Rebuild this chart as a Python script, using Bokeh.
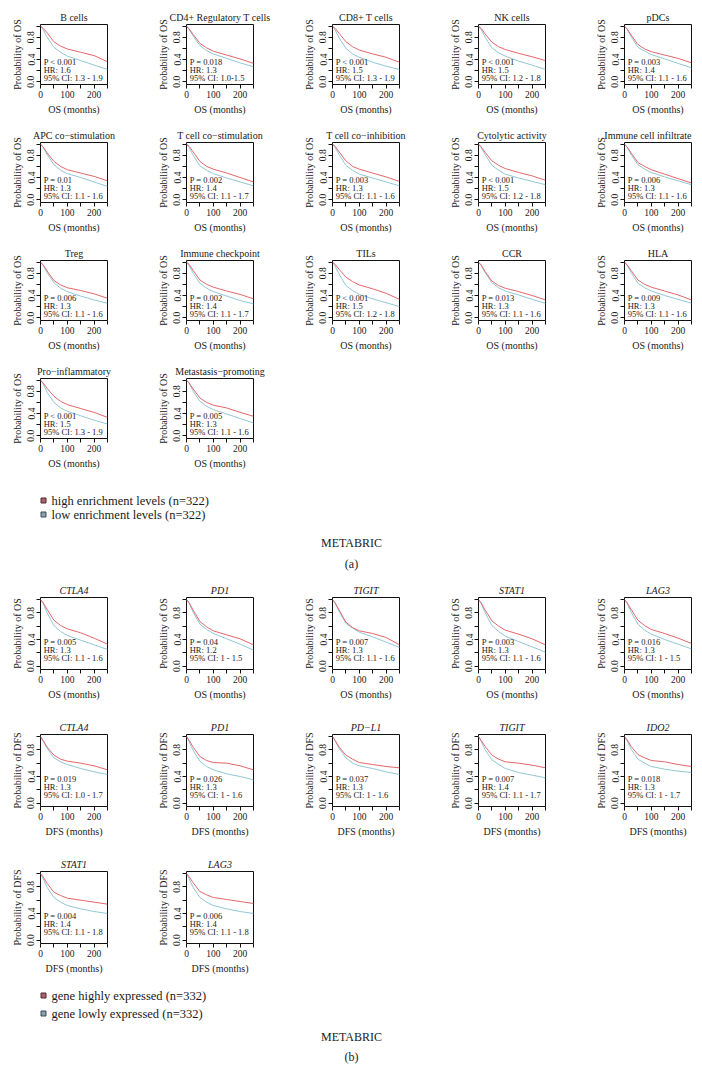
import math
from bokeh.plotting import figure
from bokeh.layouts import column, row
from bokeh.models import Range1d, FixedTicker
from bokeh.core.properties import value
from bokeh.embed import file_html
from bokeh.resources import INLINE

FONT = "Liberation Serif"
HIGH_COLOR = "#E3676B"
LOW_COLOR = "#92C7D5"
TEXT = "#1a1a1a"

# follow-up time points (months) at which the survival curves were read
months = [0, 10, 25, 50, 75, 100, 150, 200, 250]

# ---------------- panel (a): immune signatures, OS ----------------
a_titles = ["B cells", "CD4+ Regulatory T cells", "CD8+ T cells", "NK cells", "pDCs",
            "APC co\u2212stimulation", "T cell co\u2212stimulation", "T cell co\u2212inhibition",
            "Cytolytic activity", "Immune cell infiltrate",
            "Treg", "Immune checkpoint", "TILs", "CCR", "HLA",
            "Pro\u2212inflammatory", "Metastasis\u2212promoting"]

a_high = [
    [1, .96, .88, .72, .64, .59, .53, .47, .36],
    [1, .95, .85, .69, .61, .55, .48, .41, .33],
    [1, .96, .87, .72, .63, .57, .50, .44, .35],
    [1, .96, .86, .71, .63, .58, .51, .45, .38],
    [1, .95, .84, .67, .59, .54, .48, .42, .34],
    [1, .95, .84, .69, .60, .54, .48, .42, .34],
    [1, .96, .86, .69, .60, .55, .48, .40, .32],
    [1, .96, .86, .70, .60, .55, .48, .41, .33],
    [1, .95, .85, .70, .62, .56, .49, .43, .35],
    [1, .95, .84, .67, .60, .54, .46, .38, .30],
    [1, .95, .84, .67, .59, .54, .49, .43, .35],
    [1, .96, .85, .68, .60, .55, .48, .42, .34],
    [1, .96, .87, .73, .65, .59, .52, .44, .33],
    [1, .95, .83, .66, .58, .53, .47, .40, .32],
    [1, .95, .85, .68, .60, .55, .48, .41, .32],
    [1, .95, .85, .71, .62, .56, .49, .42, .33],
    [1, .95, .84, .68, .60, .55, .50, .42, .35],
]
a_low = [
    [1, .94, .80, .62, .53, .46, .38, .30, .22],
    [1, .94, .82, .65, .56, .50, .42, .34, .27],
    [1, .93, .79, .60, .50, .44, .35, .28, .22],
    [1, .94, .80, .61, .52, .46, .37, .30, .22],
    [1, .94, .81, .62, .55, .49, .41, .33, .25],
    [1, .94, .81, .63, .53, .47, .40, .32, .24],
    [1, .94, .80, .61, .53, .47, .39, .32, .25],
    [1, .94, .81, .62, .53, .46, .39, .32, .25],
    [1, .94, .81, .62, .53, .46, .39, .33, .27],
    [1, .94, .81, .63, .55, .49, .41, .34, .27],
    [1, .94, .81, .63, .53, .47, .39, .32, .26],
    [1, .94, .80, .62, .53, .47, .39, .31, .25],
    [1, .93, .78, .58, .49, .42, .34, .27, .20],
    [1, .94, .81, .63, .54, .48, .41, .33, .26],
    [1, .94, .81, .62, .54, .48, .40, .33, .26],
    [1, .93, .78, .60, .50, .44, .36, .28, .21],
    [1, .94, .80, .62, .53, .47, .39, .31, .23],
]
a_p = ["P < 0.001", "P = 0.018", "P < 0.001", "P < 0.001", "P = 0.003",
       "P = 0.01", "P = 0.002", "P = 0.003", "P < 0.001", "P = 0.006",
       "P = 0.006", "P = 0.002", "P < 0.001", "P = 0.013", "P = 0.009",
       "P < 0.001", "P = 0.005"]
a_hr = ["HR: 1.6", "HR: 1.3", "HR: 1.5", "HR: 1.5", "HR: 1.4",
        "HR: 1.3", "HR: 1.4", "HR: 1.3", "HR: 1.5", "HR: 1.3",
        "HR: 1.3", "HR: 1.4", "HR: 1.5", "HR: 1.3", "HR: 1.3",
        "HR: 1.5", "HR: 1.3"]
a_ci = ["95% CI: 1.3 - 1.9", "95% CI: 1.0-1.5", "95% CI: 1.3 - 1.9", "95% CI: 1.2 - 1.8", "95% CI: 1.1 - 1.6",
        "95% CI: 1.1 - 1.6", "95% CI: 1.1 - 1.7", "95% CI: 1.1 - 1.6", "95% CI: 1.2 - 1.8", "95% CI: 1.1 - 1.6",
        "95% CI: 1.1 - 1.6", "95% CI: 1.1 - 1.7", "95% CI: 1.2 - 1.8", "95% CI: 1.1 - 1.6", "95% CI: 1.1 - 1.6",
        "95% CI: 1.3 - 1.9", "95% CI: 1.1 - 1.6"]
a_legend = ["high enrichment levels (n=322)", "low enrichment levels (n=322)"]

# ---------------- panel (b): checkpoint genes, OS and DFS ----------------
b_titles = ["CTLA4", "PD1", "TIGIT", "STAT1", "LAG3",
            "CTLA4", "PD1", "PD\u2212L1", "TIGIT", "IDO2",
            "STAT1", "LAG3"]
b_endpoint = ["OS"] * 5 + ["DFS"] * 7
b_high = [
    [1, .95, .85, .69, .61, .56, .50, .42, .33],
    [1, .95, .84, .67, .59, .53, .47, .41, .32],
    [1, .95, .84, .66, .58, .53, .49, .43, .32],
    [1, .95, .84, .68, .60, .54, .48, .41, .32],
    [1, .95, .85, .69, .61, .55, .49, .42, .34],
    [1, .94, .84, .72, .66, .63, .60, .56, .50],
    [1, .94, .84, .70, .64, .61, .60, .56, .50],
    [1, .94, .84, .72, .66, .61, .58, .55, .53],
    [1, .94, .85, .72, .66, .62, .60, .57, .53],
    [1, .95, .85, .73, .68, .64, .62, .58, .55],
    [1, .95, .85, .72, .67, .63, .60, .57, .54],
    [1, .95, .86, .73, .68, .64, .61, .58, .55],
]
b_low = [
    [1, .94, .80, .61, .52, .46, .39, .32, .25],
    [1, .94, .81, .63, .55, .49, .41, .33, .24],
    [1, .94, .82, .64, .57, .51, .44, .36, .28],
    [1, .94, .80, .61, .52, .45, .37, .29, .21],
    [1, .94, .81, .63, .54, .48, .40, .33, .26],
    [1, .93, .82, .68, .62, .58, .52, .47, .43],
    [1, .92, .79, .63, .55, .50, .44, .40, .35],
    [1, .93, .82, .68, .60, .56, .52, .47, .43],
    [1, .93, .80, .65, .58, .52, .46, .42, .38],
    [1, .93, .81, .66, .60, .55, .51, .48, .46],
    [1, .92, .79, .64, .57, .52, .47, .43, .40],
    [1, .92, .79, .64, .57, .52, .47, .43, .40],
]
b_p = ["P = 0.005", "P = 0.04", "P = 0.007", "P = 0.003", "P = 0.016",
       "P = 0.019", "P = 0.026", "P = 0.037", "P = 0.007", "P = 0.018",
       "P = 0.004", "P = 0.006"]
b_hr = ["HR: 1.3", "HR: 1.2", "HR: 1.3", "HR: 1.3", "HR: 1.3",
        "HR: 1.3", "HR: 1.3", "HR: 1.3", "HR: 1.4", "HR: 1.3",
        "HR: 1.4", "HR: 1.4"]
b_ci = ["95% CI: 1.1 - 1.6", "95% CI: 1 - 1.5", "95% CI: 1.1 - 1.6", "95% CI: 1.1 - 1.6", "95% CI: 1 - 1.5",
        "95% CI: 1.0 - 1.7", "95% CI: 1 - 1.6", "95% CI: 1 - 1.6", "95% CI: 1.1 - 1.7", "95% CI: 1 - 1.7",
        "95% CI: 1.1 - 1.8", "95% CI: 1.1 - 1.8"]
b_legend = ["gene highly expressed (n=332)", "gene lowly expressed (n=332)"]

x_ticks = [0, 50, 100, 150, 200, 250]
x_tick_labels = {0: "0", 50: "", 100: "100", 150: "", 200: "200", 250: ""}
y_ticks = [0, 0.2, 0.4, 0.6, 0.8, 1.0]
y_tick_labels = {0: "0.0", 0.2: "", 0.4: "0.4", 0.6: "", 0.8: "0.8", 1: ""}


def km_plot(title, endpoint, hi, lo, stats, last, height, top, bottom, italic, ann_y):
    width = 110 if last else 146
    p = figure(width=width, height=height,
               x_range=Range1d(0, 250), y_range=Range1d(-0.05, 1.03),
               toolbar_location=None, output_backend="svg",
               min_border_left=32, min_border_right=(11 if last else 47),
               min_border_top=top, min_border_bottom=bottom,
               title=title)
    p.title.align = "right" if (last and len(title) > 16) else "center"
    p.title.text_font = FONT
    p.title.text_font_size = "10px"
    p.title.text_font_style = "italic" if italic else "normal"
    p.title.text_color = TEXT
    p.title.standoff = 3
    p.xgrid.visible = False
    p.ygrid.visible = False
    p.outline_line_color = "#111111"
    p.outline_line_width = 1
    p.background_fill_color = "white"
    p.border_fill_color = "white"

    for ax in (p.xaxis[0], p.yaxis[0]):
        ax.axis_line_color = None
        ax.major_tick_line_color = "#111111"
        ax.major_tick_out = 4
        ax.major_tick_in = 0
        ax.minor_tick_line_color = None
        ax.major_label_text_font = FONT
        ax.major_label_text_font_size = "9.5px"
        ax.major_label_text_color = TEXT
        ax.axis_label_text_font = FONT
        ax.axis_label_text_font_size = "10px"
        ax.axis_label_text_font_style = "normal"
        ax.axis_label_text_color = TEXT
        ax.major_label_standoff = 2
        ax.axis_label_standoff = 3
    p.xaxis[0].ticker = FixedTicker(ticks=x_ticks)
    p.xaxis[0].major_label_overrides = x_tick_labels
    p.yaxis[0].ticker = FixedTicker(ticks=y_ticks)
    p.yaxis[0].major_label_overrides = y_tick_labels
    p.yaxis[0].major_label_orientation = "parallel"
    p.yaxis[0].axis_label_standoff = 2
    p.xaxis[0].axis_label = f"{endpoint} (months)"
    p.yaxis[0].axis_label = f"Probability of {endpoint}"

    p.line(months, lo, line_color=LOW_COLOR, line_width=1)
    p.line(months, hi, line_color=HIGH_COLOR, line_width=1)

    p.text(x=[12, 12, 12], y=ann_y, text=stats,
           text_font=value(FONT), text_font_size="8.5px",
           text_baseline="middle", text_align="left", text_color=TEXT)
    return p


def caption(labels, letter, height, y_leg, y_meta, y_letter, leg_size):
    c = figure(width=694, height=height, x_range=Range1d(0, 694), y_range=Range1d(height, 0),
               toolbar_location=None, output_backend="svg", min_border=0,
               x_axis_type=None, y_axis_type=None)
    c.outline_line_color = None
    c.xgrid.visible = False
    c.ygrid.visible = False
    c.scatter(x=[35, 35], y=y_leg, marker="square", size=5,
              fill_color=["#B0606A", "#8AA2AE"], line_color=["#4A2A30", "#3A4A52"], line_width=1)
    c.text(x=[43, 43], y=y_leg, text=labels, text_font=value(FONT), text_font_size=leg_size,
           text_baseline="middle", text_align="left", text_color=TEXT)
    c.text(x=[343, 343], y=[y_meta, y_letter], text=["METABRIC", letter],
           text_font=value(FONT), text_font_size="12px",
           text_baseline="middle", text_align="center", text_color=TEXT)
    return c


a_plots = []
for i in range(len(a_titles)):
    a_plots.append(km_plot(a_titles[i], "OS", a_high[i], a_low[i],
                           [a_p[i], a_hr[i], a_ci[i]], last=(i % 5 == 4),
                           height=118, top=16, bottom=42, italic=False,
                           ann_y=[0.35, 0.21, 0.07]))
b_plots = []
for i in range(len(b_titles)):
    short = i >= 10
    b_plots.append(km_plot(b_titles[i], b_endpoint[i], b_high[i], b_low[i],
                           [b_p[i], b_hr[i], b_ci[i]], last=(i % 5 == 4),
                           height=(121 if short else 137), top=16, bottom=(33 if short else 49),
                           italic=True, ann_y=[0.36, 0.24, 0.12]))

cap_a = caption(a_legend, "(a)", 101, [20, 34], 62, 83, "12.5px")
cap_b = caption(b_legend, "(b)", 88, [19, 37], 60, 80, "12.5px")

rows = []
for k in range(0, len(a_plots), 5):
    rows.append(row(*a_plots[k:k + 5], spacing=0))
rows.append(cap_a)
for k in range(0, len(b_plots), 5):
    rows.append(row(*b_plots[k:k + 5], spacing=0))
rows.append(cap_b)

layout = column(*rows, spacing=0, margin=(8, 0, 0, 8))
open("out.html", "w").write(file_html(layout, INLINE))
